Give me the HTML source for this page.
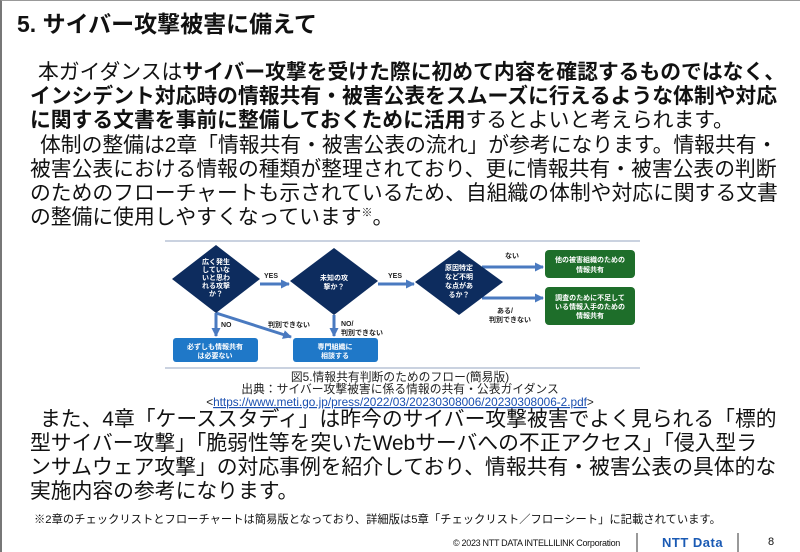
<!DOCTYPE html>
<html><head><meta charset="utf-8"><style>
body{margin:0;width:800px;height:552px;background:#fff;position:relative;overflow:hidden;font-family:"Liberation Sans","Noto Sans CJK JP",sans-serif;color:#111}
.frame{position:absolute;left:0;top:0;width:798px;height:551px;border-left:2px solid #777;border-top:1px solid #999}
.l{position:absolute;white-space:nowrap;line-height:1}
.b{font-weight:bold}
.t{font-size:20.8px}
</style></head><body>
<div class="frame"></div>
<div class="l b" style="left:17px;top:13px;font-size:23px">5. サイバー攻撃被害に備えて</div>

<div class="l t" style="left:38px;top:63px">本ガイダンスは<span class="b">サイバー攻撃を受けた際に初めて内容を確認するものではなく、</span></div>
<div class="l t b" style="left:30px;top:87px">インシデント対応時の情報共有・被害公表をスムーズに行えるような体制や対応</div>
<div class="l t" style="left:30px;top:111px"><span class="b">に関する文書を事前に整備しておくために活用</span>するとよいと考えられます。</div>

<div class="l t" style="left:40px;top:136px">体制の整備は2章「情報共有・被害公表の流れ」が参考になります。情報共有・</div>
<div class="l t" style="left:30px;top:160px">被害公表における情報の種類が整理されており、更に情報共有・被害公表の判断</div>
<div class="l t" style="left:30px;top:184px">のためのフローチャートも示されているため、自組織の体制や対応に関する文書</div>
<div class="l t" style="left:30px;top:208px">の整備に使用しやすくなっています<sup style="font-size:11px">※</sup>。</div>

<svg style="position:absolute;left:0;top:0" width="800" height="552">
<defs><marker id="a" markerUnits="userSpaceOnUse" markerWidth="9" markerHeight="9" refX="8" refY="4.5" orient="auto"><path d="M0,0L9,4.5L0,9z" fill="#4a7ac0"/></marker></defs>
<line x1="165" y1="241" x2="640" y2="241" stroke="#b8c4d6" stroke-width="1.5"/>
<line x1="165" y1="368" x2="640" y2="368" stroke="#b8c4d6" stroke-width="1.5"/>
<g stroke="#4a7ac0" stroke-width="3" fill="none" marker-end="url(#a)">
<line x1="260" y1="284" x2="289" y2="284"/>
<line x1="378" y1="284" x2="414" y2="284"/>
<line x1="482" y1="267" x2="543" y2="267"/>
<line x1="482" y1="298" x2="543" y2="298"/>
<line x1="216" y1="313" x2="216" y2="336"/>
<line x1="216" y1="313" x2="291" y2="337"/>
<line x1="334" y1="315" x2="334" y2="336"/>
</g>
<g fill="#0d2c5e">
<polygon points="216,245 260,279 216,313 172,279"/>
<polygon points="334,248 378,281 334,315 290,281"/>
<polygon points="459,250 503,282 459,315 415,282"/>
</g>
<rect x="545" y="250" width="90" height="28" rx="4" fill="#1e6e2a"/>
<rect x="545" y="287" width="90" height="38" rx="4" fill="#1e6e2a"/>
<rect x="173" y="338" width="85" height="24" rx="3" fill="#1f78c8"/>
<rect x="293" y="338" width="85" height="24" rx="3" fill="#1f78c8"/>
<g font-family="Liberation Sans,Noto Sans CJK JP,sans-serif" font-size="7" fill="#fff" text-anchor="middle" font-weight="bold">
<text x="216" y="264">広く発生</text><text x="216" y="272">していな</text><text x="216" y="280">いと思わ</text><text x="216" y="288">れる攻撃</text><text x="216" y="296">か？</text>
<text x="334" y="280">未知の攻</text><text x="334" y="289">撃か？</text>
<text x="459" y="270">原因特定</text><text x="459" y="279">など不明</text><text x="459" y="288">な点があ</text><text x="459" y="297">るか？</text>
<text x="590" y="262">他の被害組織のための</text><text x="590" y="272">情報共有</text>
<text x="590" y="300">調査のために不足して</text><text x="590" y="309">いる情報入手のための</text><text x="590" y="318">情報共有</text>
<text x="215" y="349">必ずしも情報共有</text><text x="215" y="358">は必要ない</text>
<text x="335" y="349">専門組織に</text><text x="335" y="358">相談する</text>
</g>
<g font-family="Liberation Sans,Noto Sans CJK JP,sans-serif" font-size="7" fill="#222" font-weight="bold">
<text x="264" y="278">YES</text><text x="388" y="278">YES</text>
<text x="505" y="258">ない</text>
<text x="497" y="313">ある/</text><text x="489" y="322">判別できない</text>
<text x="221" y="327">NO</text><text x="268" y="327">判別できない</text>
<text x="341" y="326">NO/</text><text x="341" y="335">判別できない</text>
</g>
<g font-family="Liberation Sans,Noto Sans CJK JP,sans-serif" font-size="11.8" fill="#222" text-anchor="middle">
<text x="400" y="381">図5.情報共有判断のためのフロー(簡易版)</text>
<text x="400" y="393">出典：サイバー攻撃被害に係る情報の共有・公表ガイダンス</text>
<text x="400" y="406">&lt;<tspan fill="#1a4fb0" text-decoration="underline">https://www.meti.go.jp/press/2022/03/20230308006/20230308006-2.pdf</tspan>&gt;</text>
</g>
<line x1="637" y1="533" x2="637" y2="552" stroke="#333"/>
<line x1="738" y1="533" x2="738" y2="552" stroke="#333"/>
</svg>

<div class="l t" style="left:40px;top:410px">また、4章「ケーススタディ」は昨今のサイバー攻撃被害でよく見られる「標的</div>
<div class="l t" style="left:30px;top:434px">型サイバー攻撃」「脆弱性等を突いたWebサーバへの不正アクセス」「侵入型ラ</div>
<div class="l t" style="left:30px;top:458px">ンサムウェア攻撃」の対応事例を紹介しており、情報共有・被害公表の具体的な</div>
<div class="l t" style="left:30px;top:482px">実施内容の参考になります。</div>

<div class="l" style="left:34px;top:515px;font-size:11.3px">※2章のチェックリストとフローチャートは簡易版となっており、詳細版は5章「チェックリスト／フローシート」に記載されています。</div>
<div class="l" style="left:453px;top:539px;font-size:9px;letter-spacing:-0.3px">© 2023 NTT DATA INTELLILINK Corporation</div>
<div class="l b" style="left:662px;top:536px;font-size:13px;color:#1a5ab4;letter-spacing:0.5px">NTT Data</div>
<div class="l" style="left:768px;top:537px;font-size:11px">8</div>
</body></html>
